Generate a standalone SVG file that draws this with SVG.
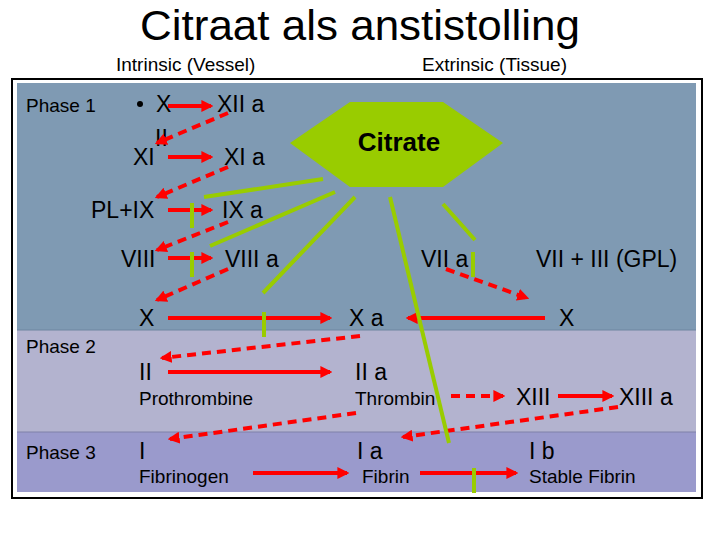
<svg xmlns="http://www.w3.org/2000/svg" width="720" height="540" viewBox="0 0 720 540">
<defs>
<marker id="ah" viewBox="0 0 10 10" refX="8" refY="5" markerWidth="3" markerHeight="3" orient="auto" markerUnits="strokeWidth">
<path d="M0,0 L10,5 L0,10 Z" fill="#ff0000"/>
</marker>
<style>
text{font-family:"Liberation Sans",Arial,sans-serif;fill:#000}
.ttl{font-size:42px}
.hd{font-size:19px}
.sm{font-size:19px}
.lg{font-size:23px}
.cit{font-size:26px;font-weight:bold}
.ar{stroke:#ff0000;stroke-width:4;fill:none;marker-end:url(#ah)}
.da{stroke:#ff0000;stroke-width:4;fill:none;stroke-dasharray:9 6;marker-end:url(#ah)}
.gl{stroke:#99cc00;stroke-width:4;fill:none}
</style>
</defs>
<rect width="720" height="540" fill="#ffffff"/>
<g id="title">
<text class="ttl" x="140" y="40" textLength="440" lengthAdjust="spacingAndGlyphs">Citraat als anstistolling</text>
<text class="hd" x="116" y="71">Intrinsic (Vessel)</text>
<text class="hd" x="422" y="71">Extrinsic (Tissue)</text>
</g>
<g id="panels">
<rect x="12" y="79" width="690" height="419" fill="#ffffff" stroke="#000" stroke-width="2"/>
<rect x="17" y="83" width="679" height="247" fill="#7f9ab3"/>
<rect x="17" y="330" width="679" height="102" fill="#b3b3cf"/>
<rect x="17" y="432" width="679" height="60" fill="#9a9acc"/>
<line x1="17" y1="330" x2="696" y2="330" stroke="#6f86a0" stroke-width="1"/>
<line x1="17" y1="432" x2="696" y2="432" stroke="#7f80a8" stroke-width="1"/>
<text class="sm" x="26" y="112">Phase 1</text>
<text class="sm" x="26" y="353">Phase 2</text>
<text class="sm" x="26" y="459">Phase 3</text>
</g>
<g id="citrate">
<polygon points="290,143 350,102 443,102 503,143 443,187 350,187" fill="#99cc00"/>
<text class="cit" x="399" y="151" text-anchor="middle">Citrate</text>
</g>
<g id="n-XII">
<circle cx="140" cy="104" r="3" fill="#000"/>
<text class="lg" x="156" y="112">X</text>
<text class="lg" x="155" y="146">II</text>
</g>
<g id="n-XIIa"><text class="lg" x="217" y="112">XII a</text></g>
<g id="n-XI"><text class="lg" x="133" y="165">XI</text></g>
<g id="n-XIa"><text class="lg" x="224" y="165">XI a</text></g>
<g id="n-PLIX"><text class="lg" x="91" y="218">PL+IX</text></g>
<g id="n-IXa"><text class="lg" x="222" y="218">IX a</text></g>
<g id="n-VIII"><text class="lg" x="121" y="267">VIII</text></g>
<g id="n-VIIIa"><text class="lg" x="225" y="267">VIII a</text></g>
<g id="n-VIIa"><text class="lg" x="421" y="267">VII a</text></g>
<g id="n-VII"><text class="lg" x="536" y="267">VII + III (GPL)</text></g>
<g id="n-X"><text class="lg" x="139" y="326">X</text></g>
<g id="n-Xa"><text class="lg" x="349" y="326">X a</text></g>
<g id="n-X2"><text class="lg" x="559" y="326">X</text></g>
<g id="n-II"><text class="lg" x="139" y="380">II</text><text class="sm" x="139" y="405">Prothrombine</text></g>
<g id="n-IIa"><text class="lg" x="355" y="380">II a</text><text class="sm" x="355" y="405">Thrombin</text></g>
<g id="n-XIII"><text class="lg" x="516" y="405">XIII</text></g>
<g id="n-XIIIa"><text class="lg" x="619" y="405">XIII a</text></g>
<g id="n-I"><text class="lg" x="139" y="459">I</text><text class="sm" x="139" y="483">Fibrinogen</text></g>
<g id="n-Ia"><text class="lg" x="357" y="459">I a</text><text class="sm" x="362" y="483">Fibrin</text></g>
<g id="n-Ib"><text class="lg" x="529" y="459">I b</text><text class="sm" x="529" y="483">Stable Fibrin</text></g>
<g id="connectors">
<line class="ar" x1="168" y1="106" x2="211" y2="106"/>
<line class="ar" x1="168" y1="157" x2="211" y2="157"/>
<line class="ar" x1="168" y1="210" x2="211" y2="210"/>
<line class="ar" x1="168" y1="258" x2="211" y2="258"/>
<line class="ar" x1="168" y1="318" x2="330" y2="318"/>
<line class="ar" x1="545" y1="318" x2="408" y2="318"/>
<line class="ar" x1="168" y1="372" x2="330" y2="372"/>
<line class="ar" x1="558" y1="396" x2="612" y2="396"/>
<line class="ar" x1="253" y1="473" x2="347" y2="473"/>
<line class="ar" x1="420" y1="473" x2="516" y2="473"/>
<line class="da" x1="228" y1="113" x2="157" y2="143"/>
<line class="da" x1="228" y1="167" x2="157" y2="197"/>
<line class="da" x1="228" y1="222" x2="157" y2="250"/>
<line class="da" x1="228" y1="269" x2="157" y2="300"/>
<line class="da" x1="446" y1="269" x2="527" y2="298"/>
<line class="da" x1="360" y1="336" x2="162" y2="358"/>
<line class="da" x1="451" y1="396" x2="503" y2="396"/>
<line class="da" x1="356" y1="413" x2="170" y2="439"/>
<line class="da" x1="618" y1="407" x2="403" y2="437"/>
<line class="gl" x1="323" y1="179" x2="204" y2="197"/>
<line class="gl" x1="335" y1="192" x2="210" y2="246"/>
<line class="gl" x1="355" y1="197" x2="263" y2="293"/>
<line class="gl" x1="390" y1="197" x2="449" y2="443"/>
<line class="gl" x1="443" y1="204" x2="475" y2="240"/>
<line class="gl" x1="192" y1="203" x2="192" y2="228"/>
<line class="gl" x1="192" y1="252" x2="192" y2="277"/>
<line class="gl" x1="264" y1="312" x2="264" y2="337"/>
<line class="gl" x1="473" y1="252" x2="473" y2="277"/>
<line class="gl" x1="474" y1="468" x2="474" y2="493"/>
</g>
</svg>
